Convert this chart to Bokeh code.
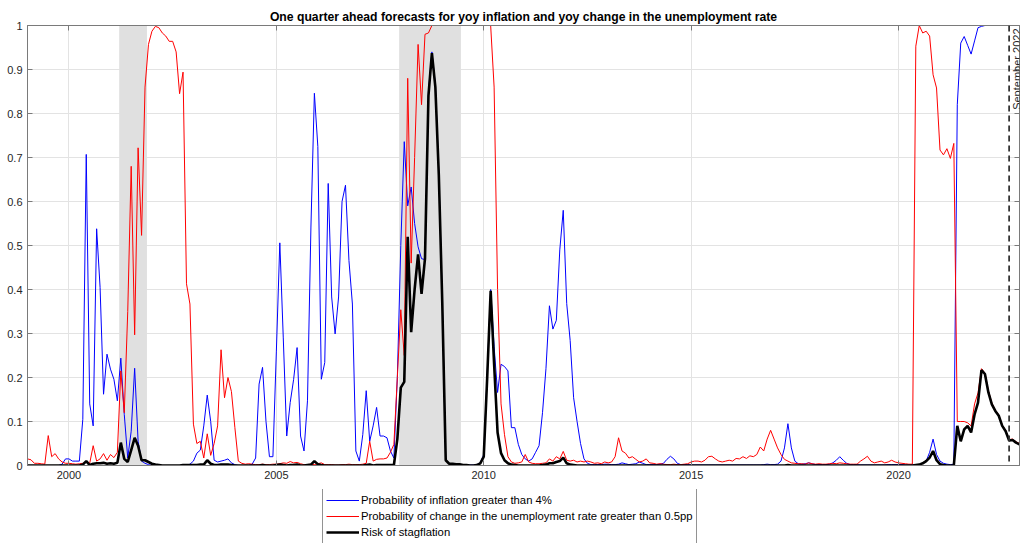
import numpy as np
from math import pi
from bokeh.plotting import figure
from bokeh.layouts import column
from bokeh.models import (Range1d, FixedTicker, LinearAxis, Span, Label,
                          Legend, LegendItem, Grid)
from bokeh.embed import file_html
from bokeh.resources import INLINE

# ---------------- data (monthly, Jan 1999 .. Dec 2022) ----------------
START_YEAR = 1999

inflation_prob = [
    # 1999
    0.0, 0.0, 0.0, 0.0, 0.0, 0.0, 0.0, 0.0, 0.0, 0.0, 0.003, 0.015,
    # 2000
    0.015, 0.01, 0.01, 0.01, 0.105, 0.707, 0.14, 0.09, 0.538, 0.405, 0.162, 0.253,
    # 2001
    0.219, 0.196, 0.147, 0.244, 0.116, 0.017, 0.078, 0.221, 0.055, 0.01, 0.005, 0.002,
    # 2002
    0.0, 0.0, 0.0, 0.0, 0.0, 0.0, 0.0, 0.0, 0.0, 0.0, 0.0, 0.003,
    # 2003
    0.01, 0.028, 0.035, 0.09, 0.16, 0.1, 0.012, 0.008, 0.01, 0.012, 0.015, 0.006,
    # 2004
    0.002, 0.0, 0.0, 0.0, 0.0, 0.003, 0.017, 0.185, 0.223, 0.1, 0.02, 0.02,
    # 2005
    0.26, 0.506, 0.29, 0.067, 0.143, 0.196, 0.268, 0.067, 0.033, 0.147, 0.542, 0.846,
    # 2006
    0.725, 0.196, 0.234, 0.641, 0.383, 0.299, 0.383, 0.6, 0.637, 0.466, 0.367, 0.033,
    # 2007
    0.01, 0.07, 0.17, 0.055, 0.09, 0.132, 0.067, 0.067, 0.063, 0.033, 0.017, 0.2,
    # 2008
    0.5, 0.736, 0.59, 0.633, 0.55, 0.497, 0.47, 0.468, 0.85, 0.94, 0.865, 0.665,
    # 2009
    0.375, 0.012, 0.004, 0.003, 0.002, 0.002, 0.001, 0.001, 0.001, 0.001, 0.002, 0.006,
    # 2010
    0.025, 0.21, 0.4, 0.27, 0.166, 0.23, 0.225, 0.215, 0.086, 0.086, 0.048, 0.025,
    # 2011
    0.015, 0.01, 0.015, 0.03, 0.045, 0.12, 0.22, 0.363, 0.31, 0.33, 0.49, 0.58,
    # 2012
    0.368, 0.284, 0.154, 0.1, 0.05, 0.015, 0.005, 0.002, 0.002, 0.002, 0.002, 0.003,
    # 2013
    0.003, 0.002, 0.002, 0.003, 0.006, 0.004, 0.002, 0.003, 0.004, 0.008, 0.005, 0.002,
    # 2014
    0.002, 0.002, 0.002, 0.003, 0.005, 0.014, 0.021, 0.015, 0.005, 0.002, 0.002, 0.002,
    # 2015
    0.001, 0.001, 0.001, 0.001, 0.001, 0.001, 0.001, 0.001, 0.001, 0.001, 0.001, 0.001,
    # 2016
    0.001, 0.001, 0.001, 0.001, 0.001, 0.001, 0.001, 0.001, 0.001, 0.002, 0.003, 0.002,
    # 2017
    0.002, 0.003, 0.01, 0.04, 0.095, 0.04, 0.01, 0.004, 0.003, 0.004, 0.006, 0.004,
    # 2018
    0.002, 0.002, 0.002, 0.002, 0.003, 0.006, 0.012, 0.02, 0.012, 0.005, 0.002, 0.002,
    # 2019
    0.002, 0.001, 0.001, 0.001, 0.001, 0.001, 0.001, 0.001, 0.001, 0.002, 0.002, 0.002,
    # 2020
    0.002, 0.002, 0.001, 0.001, 0.001, 0.001, 0.002, 0.005, 0.01, 0.03, 0.06, 0.025,
    # 2021
    0.01, 0.005, 0.003, 0.002, 0.003, 0.82, 0.96, 0.975, 0.955, 0.935, 0.965, 0.995,
    # 2022
    0.998, 1.0, 1.0, 1.0, 1.0, 1.0, 1.0, 1.0, 1.0, 1.0, 1.0, 1.0,
]

unemployment_prob = [
    # 1999
    0.015, 0.013, 0.005, 0.005, 0.004, 0.003, 0.068, 0.02, 0.027, 0.015, 0.008, 0.005,
    # 2000
    0.005, 0.004, 0.003, 0.004, 0.005, 0.008, 0.005, 0.045, 0.01, 0.015, 0.027, 0.012,
    # 2001
    0.025, 0.018, 0.03, 0.215, 0.12, 0.35, 0.68, 0.297, 0.722, 0.523, 0.86, 0.957,
    # 2002
    0.987, 0.998, 0.995, 0.983, 0.976, 0.964, 0.964, 0.94, 0.845, 0.894, 0.413, 0.367,
    # 2003
    0.094, 0.05, 0.055, 0.017, 0.072, 0.023, 0.05, 0.09, 0.263, 0.154, 0.2, 0.168,
    # 2004
    0.086, 0.01, 0.005, 0.003, 0.004, 0.003, 0.002, 0.002, 0.003, 0.002, 0.002, 0.003,
    # 2005
    0.003, 0.004, 0.006, 0.005, 0.009, 0.006, 0.007, 0.004, 0.002, 0.002, 0.003, 0.002,
    # 2006
    0.004, 0.006, 0.002, 0.002, 0.002, 0.001, 0.001, 0.002, 0.002, 0.003, 0.002, 0.002,
    # 2007
    0.002, 0.003, 0.005, 0.055, 0.01, 0.014, 0.015, 0.015, 0.017, 0.03, 0.048, 0.2,
    # 2008
    0.354, 0.25, 0.88, 0.46, 0.7, 0.957, 0.82, 0.98, 0.983, 1.0, 1.0, 1.0,
    # 2009
    1.0, 1.0, 1.0, 1.0, 1.0, 1.0, 1.0, 1.0, 1.0, 1.0, 1.0, 1.0,
    # 2010
    1.0, 1.0, 1.0, 0.86, 0.4, 0.14, 0.07, 0.02, 0.008, 0.005, 0.006, 0.008,
    # 2011
    0.025, 0.008, 0.005, 0.004, 0.004, 0.005, 0.006, 0.015, 0.01, 0.02, 0.015, 0.032,
    # 2012
    0.012, 0.01, 0.012, 0.008, 0.01, 0.008, 0.01, 0.008, 0.005, 0.006, 0.004, 0.008,
    # 2013
    0.006, 0.008, 0.02, 0.063, 0.033, 0.028, 0.017, 0.02, 0.014, 0.008, 0.01, 0.015,
    # 2014
    0.006, 0.005, 0.003, 0.004, 0.003, 0.002, 0.002, 0.003, 0.002, 0.002, 0.003, 0.004,
    # 2015
    0.008, 0.01, 0.01, 0.008, 0.012, 0.02, 0.021, 0.015, 0.01, 0.008, 0.01, 0.012,
    # 2016
    0.01, 0.016, 0.015, 0.02, 0.016, 0.022, 0.02, 0.025, 0.042, 0.033, 0.06, 0.08,
    # 2017
    0.06, 0.04, 0.025, 0.014, 0.01, 0.006, 0.005, 0.004, 0.004, 0.003, 0.006, 0.004,
    # 2018
    0.003, 0.004, 0.003, 0.003, 0.004, 0.005, 0.004, 0.006, 0.005, 0.004, 0.003, 0.003,
    # 2019
    0.003, 0.01, 0.015, 0.021, 0.01, 0.006, 0.008, 0.01, 0.006, 0.008, 0.012, 0.008,
    # 2020
    0.006, 0.005, 0.004, 0.003, 0.003, 0.953, 1.0, 0.983, 0.987, 0.976, 0.888, 0.858,
    # 2021
    0.717, 0.706, 0.72, 0.698, 0.732, 0.1, 0.1, 0.1, 0.097, 0.09, 0.14, 0.165,
    # 2022
    0.22, 0.21, 0.17, 0.142, 0.126, 0.115, 0.092, 0.08, 0.059, 0.06, 0.054, 0.05,
]

stagflation_risk = [
    # 1999
    0.0, 0.0, 0.0, 0.0, 0.0, 0.0, 0.0, 0.0, 0.0, 0.0, 0.0, 0.0,
    # 2000
    0.0, 0.0, 0.0, 0.0, 0.002, 0.01, 0.001, 0.004, 0.005, 0.005, 0.006, 0.004,
    # 2001
    0.005, 0.004, 0.006, 0.052, 0.015, 0.008, 0.035, 0.063, 0.045, 0.012, 0.012, 0.008,
    # 2002
    0.004, 0.002, 0.001, 0.0, 0.0, 0.0, 0.0, 0.0, 0.0, 0.001, 0.001, 0.001,
    # 2003
    0.001, 0.001, 0.002, 0.002, 0.012, 0.004, 0.001, 0.001, 0.002, 0.002, 0.002, 0.001,
    # 2004
    0.0, 0.0, 0.0, 0.0, 0.0, 0.0, 0.0, 0.0, 0.001, 0.0, 0.0, 0.0,
    # 2005
    0.001, 0.002, 0.001, 0.0, 0.001, 0.001, 0.002, 0.0, 0.0, 0.001, 0.002, 0.01,
    # 2006
    0.003, 0.001, 0.0, 0.0, 0.0, 0.0, 0.0, 0.0, 0.0, 0.0, 0.0, 0.0,
    # 2007
    0.0, 0.0, 0.001, 0.002, 0.0, 0.001, 0.001, 0.001, 0.001, 0.001, 0.001, 0.06,
    # 2008
    0.177, 0.19, 0.52, 0.303, 0.4, 0.48, 0.39, 0.47, 0.84, 0.937, 0.86, 0.66,
    # 2009
    0.37, 0.012, 0.004, 0.004, 0.003, 0.003, 0.001, 0.001, 0.0, 0.0, 0.001, 0.005,
    # 2010
    0.02, 0.2, 0.397, 0.23, 0.075, 0.028, 0.012, 0.005, 0.002, 0.001, 0.0, 0.0,
    # 2011
    0.0, 0.0, 0.0, 0.0, 0.0, 0.001, 0.002, 0.005, 0.005, 0.008, 0.01, 0.018,
    # 2012
    0.005, 0.002, 0.001, 0.0, 0.0, 0.0, 0.0, 0.0, 0.0, 0.0, 0.0, 0.0,
    # 2013
    0.0, 0.0, 0.0, 0.0, 0.0, 0.0, 0.0, 0.0, 0.0, 0.0, 0.0, 0.0,
    # 2014
    0.0, 0.0, 0.0, 0.0, 0.0, 0.0, 0.0, 0.0, 0.0, 0.0, 0.0, 0.0,
    # 2015
    0.0, 0.0, 0.0, 0.0, 0.0, 0.0, 0.0, 0.0, 0.0, 0.0, 0.0, 0.0,
    # 2016
    0.0, 0.0, 0.0, 0.0, 0.0, 0.0, 0.0, 0.0, 0.0, 0.0, 0.0, 0.0,
    # 2017
    0.0, 0.0, 0.0, 0.0, 0.001, 0.0, 0.0, 0.0, 0.0, 0.0, 0.0, 0.0,
    # 2018
    0.0, 0.0, 0.0, 0.0, 0.0, 0.0, 0.0, 0.0, 0.0, 0.0, 0.0, 0.0,
    # 2019
    0.0, 0.0, 0.0, 0.0, 0.0, 0.0, 0.0, 0.0, 0.0, 0.0, 0.0, 0.0,
    # 2020
    0.0, 0.0, 0.0, 0.0, 0.0, 0.001, 0.002, 0.005, 0.01, 0.018, 0.033, 0.012,
    # 2021
    0.003, 0.001, 0.0, 0.0, 0.0, 0.09, 0.055, 0.082, 0.09, 0.075, 0.116, 0.143,
    # 2022
    0.217, 0.208, 0.166, 0.139, 0.124, 0.113, 0.09, 0.078, 0.057, 0.058, 0.052, 0.048,
]

recession_starts = [2001.21, 2007.96]
recession_ends = [2001.88, 2009.45]

marker_date = 2022 + 8 / 12          # September 2022
marker_label = "September 2022"

x_ticks = [2000, 2005, 2010, 2015, 2020]
y_ticks = [0, 0.1, 0.2, 0.3, 0.4, 0.5, 0.6, 0.7, 0.8, 0.9, 1]
y_tick_labels = ["0", "0.1", "0.2", "0.3", "0.4", "0.5", "0.6", "0.7", "0.8", "0.9", "1"]

title_text = ("One quarter ahead forecasts for yoy inflation and "
              "yoy change in the unemployment rate")
legend_labels = ["Probability of inflation greater than 4%",
                 "Probability of change in the unemployment rate greater than 0.5pp",
                 "Risk of stagflation"]
series_colors = ["#0000ff", "#ff0000", "#000000"]
series_widths = [1, 1, 2.6]

# ---------------- main figure ----------------
dates = START_YEAR + np.arange(len(inflation_prob)) / 12.0
all_series = [inflation_prob, unemployment_prob, stagflation_risk]

FONT = "Liberation Sans"
AX = "#7a7a7a"
TXT = "#262626"

p = figure(width=1026, height=489, output_backend="svg", toolbar_location=None,
           x_range=Range1d(START_YEAR, dates[-1]), y_range=Range1d(0, 1),
           min_border_left=27, min_border_right=7, min_border_top=25,
           min_border_bottom=24, x_axis_type=None, y_axis_type=None)
p.background_fill_color = "white"
p.border_fill_color = "white"
p.outline_line_color = AX
p.outline_line_width = 1

p.title.text = title_text
p.title.align = "center"
p.title.text_font = FONT
p.title.text_font_size = "12.2px"
p.title.text_font_style = "bold"
p.title.text_color = "#000000"
p.title.standoff = 4


def make_axis(ticks, show_labels, overrides=None):
    ax = LinearAxis(ticker=FixedTicker(ticks=ticks))
    ax.axis_line_color = AX
    ax.major_tick_line_color = AX
    ax.minor_tick_line_color = None
    ax.major_tick_in = 5
    ax.major_tick_out = 0
    ax.major_label_text_font = FONT
    ax.major_label_text_color = TXT
    if show_labels:
        ax.major_label_text_font_size = "11px"
        ax.major_label_standoff = 5
        if overrides:
            ax.major_label_overrides = overrides
    else:
        ax.major_label_text_font_size = "0px"
        ax.major_label_standoff = 0
        ax.major_label_text_alpha = 0
    return ax


p.add_layout(make_axis(x_ticks, True), "below")
p.add_layout(make_axis(y_ticks, True, {t: l for t, l in zip(y_ticks, y_tick_labels)}), "left")
p.add_layout(make_axis(x_ticks, False), "above")
p.add_layout(make_axis(y_ticks, False), "right")

p.add_layout(Grid(dimension=0, ticker=FixedTicker(ticks=x_ticks),
                  grid_line_color="#e3e3e3", grid_line_width=1))
p.add_layout(Grid(dimension=1, ticker=FixedTicker(ticks=y_ticks),
                  grid_line_color="#e3e3e3", grid_line_width=1))

# recession shading
p.quad(left=recession_starts, right=recession_ends, bottom=0, top=1,
       fill_color="#e0e0e0", line_color=None)

for vals, col, lw in zip(all_series, series_colors, series_widths):
    p.line(dates, vals, line_color=col, line_width=lw)

# September 2022 marker
p.add_layout(Span(location=marker_date, dimension="height", line_color="#333333",
                  line_dash="6 4", line_width=1.8))
p.add_layout(Label(x=marker_date, y=1, x_offset=8, y_offset=-3, angle=pi / 2,
                   text=marker_label, text_align="right", text_baseline="middle",
                   text_font=FONT, text_font_size="11px", text_color=TXT))

# ---------------- legend strip below the axes ----------------
# The same series are drawn here only to give the legend its line samples;
# the strip's ranges keep them out of view.
pl = figure(width=1026, height=54, output_backend="svg", toolbar_location=None,
            x_range=Range1d(0, 1), y_range=Range1d(0, 1), min_border=0,
            x_axis_type=None, y_axis_type=None)
pl.outline_line_color = None
pl.xgrid.visible = False
pl.ygrid.visible = False
pl.background_fill_color = "white"
pl.border_fill_color = "white"

items = []
for lab, vals, col, lw in zip(legend_labels, all_series, series_colors, series_widths):
    r = pl.line(dates, vals, line_color=col, line_width=lw)
    items.append(LegendItem(label=lab, renderers=[r]))

legend = Legend(items=items, location=(295, -1))
legend.margin = 0
legend.padding = 3
legend.spacing = 0
legend.glyph_width = 33
legend.glyph_height = 16
legend.label_height = 16
legend.label_standoff = 2
legend.label_text_font = FONT
legend.label_text_font_size = "11.3px"
legend.label_text_color = "#000000"
legend.border_line_color = "#262626"
legend.border_line_width = 1
legend.background_fill_color = "white"
legend.background_fill_alpha = 1
pl.add_layout(legend)

layout = column(p, pl, spacing=0)
open("out.html", "w").write(file_html(layout, INLINE))
